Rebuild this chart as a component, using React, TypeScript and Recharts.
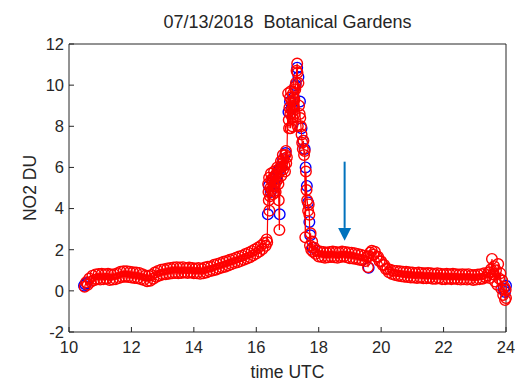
import {
  ReferenceDot,
  ReferenceLine,
  Scatter,
  ScatterChart,
  XAxis,
  YAxis,
} from "recharts";

const title = "07/13/2018\u00a0 Botanical Gardens";
const xTicks = [10, 12, 14, 16, 18, 20, 22, 24];
const yTicks = [-2, 0, 2, 4, 6, 8, 10, 12];

// [time UTC, NO2 DU]
const redMorning: [number, number][] = [
  [10.5, 0.2], [10.55, 0.42], [10.6, 0.3], [10.65, 0.6], [10.7, 0.44], [10.75, 0.74],
  [10.8, 0.52], [10.85, 0.8], [10.9, 0.56], [10.95, 0.82], [11.0, 0.55], [11.05, 0.83],
  [11.1, 0.57], [11.15, 0.81], [11.2, 0.59], [11.25, 0.83], [11.3, 0.53], [11.35, 0.79],
  [11.4, 0.55], [11.45, 0.81], [11.5, 0.57], [11.55, 0.85], [11.6, 0.63], [11.65, 0.93],
  [11.7, 0.67], [11.75, 0.95], [11.8, 0.69], [11.85, 0.95], [11.9, 0.67], [11.95, 0.93],
  [12.0, 0.65], [12.05, 0.91], [12.1, 0.63], [12.15, 0.89], [12.2, 0.61], [12.25, 0.87],
  [12.3, 0.57], [12.35, 0.81], [12.4, 0.53], [12.45, 0.75], [12.5, 0.47], [12.55, 0.73],
  [12.6, 0.49], [12.65, 0.77], [12.7, 0.59], [12.75, 0.89], [12.8, 0.69], [12.85, 0.97],
  [12.9, 0.75], [12.95, 1.03], [13.0, 0.79], [13.05, 1.05], [13.1, 0.81], [13.15, 1.09],
  [13.2, 0.83], [13.25, 1.11], [13.3, 0.85], [13.35, 1.13], [13.4, 0.87], [13.45, 1.15],
  [13.5, 0.85], [13.55, 1.13], [13.6, 0.87], [13.65, 1.15], [13.7, 0.89], [13.75, 1.11],
  [13.8, 0.87], [13.85, 1.13], [13.9, 0.89], [13.95, 1.11], [14.0, 0.85], [14.05, 1.09],
  [14.1, 0.85], [14.15, 1.11], [14.2, 0.83], [14.25, 1.07], [14.3, 0.85], [14.35, 1.13],
  [14.4, 0.89], [14.45, 1.17], [14.5, 0.95], [14.55, 1.19], [14.6, 0.99], [14.65, 1.27],
  [14.7, 1.03], [14.75, 1.31], [14.8, 1.09], [14.85, 1.35], [14.9, 1.13], [14.95, 1.41],
  [15.0, 1.17], [15.05, 1.45], [15.1, 1.23], [15.15, 1.51], [15.2, 1.29], [15.25, 1.55],
  [15.3, 1.35], [15.35, 1.61], [15.4, 1.39], [15.45, 1.67], [15.5, 1.45], [15.55, 1.71],
  [15.6, 1.51], [15.65, 1.79], [15.7, 1.57], [15.75, 1.85], [15.8, 1.63], [15.85, 1.93],
  [15.9, 1.73], [15.95, 2.01], [16.0, 1.81], [16.05, 2.09], [16.1, 1.91], [16.15, 2.19],
  [16.2, 2.03], [16.25, 2.33], [16.3, 2.19], [16.33, 2.5], [16.35, 2.36],
];

const redPeak: [number, number][] = [
  [16.38, 5.2], [16.39, 4.8], [16.4, 4.4], [16.41, 5.5], [16.42, 3.9], [16.44, 4.6],
  [16.45, 5.0], [16.47, 5.7], [16.48, 5.4], [16.5, 4.9], [16.52, 5.3], [16.53, 4.7],
  [16.55, 5.5], [16.57, 5.8], [16.58, 5.1], [16.6, 5.6], [16.62, 4.8], [16.63, 5.3],
  [16.65, 5.7], [16.67, 6.0], [16.68, 5.4], [16.7, 5.9], [16.71, 5.2], [16.72, 4.4],
  [16.74, 2.96], [16.76, 5.8], [16.78, 6.0], [16.79, 6.3], [16.8, 5.6], [16.83, 6.2],
  [16.85, 6.6], [16.86, 5.9], [16.88, 6.4], [16.9, 6.1], [16.92, 5.8], [16.93, 6.6],
  [16.95, 6.8], [16.96, 6.2], [16.98, 6.5], [17.02, 9.6], [17.04, 8.3], [17.05, 7.9],
  [17.06, 8.9], [17.08, 9.4], [17.09, 8.6], [17.1, 7.9], [17.11, 9.7], [17.12, 8.8],
  [17.14, 9.2], [17.15, 8.0], [17.16, 8.4], [17.18, 9.6], [17.19, 9.0], [17.2, 8.9],
  [17.22, 9.3], [17.23, 8.6], [17.24, 9.9], [17.25, 9.8], [17.27, 10.1], [17.29, 10.7],
  [17.31, 11.05], [17.32, 10.6], [17.33, 8.0], [17.35, 10.1], [17.37, 9.0], [17.39, 8.6],
  [17.41, 8.4], [17.43, 8.0], [17.45, 7.6], [17.47, 7.2], [17.49, 6.9], [17.51, 7.3],
  [17.53, 6.6], [17.55, 6.8], [17.57, 2.6], [17.59, 5.8], [17.61, 4.9], [17.63, 4.4],
  [17.66, 3.9], [17.68, 4.2], [17.7, 3.7], [17.72, 2.2], [17.74, 2.8], [17.76, 2.0],
  [17.79, 2.4], [17.82, 1.9], [17.86, 2.1], [17.9, 1.8], [17.95, 1.95],
];

const redEvening: [number, number][] = [
  [18.0, 1.67], [18.05, 1.91], [18.1, 1.65], [18.15, 1.89], [18.2, 1.61], [18.25, 1.87],
  [18.3, 1.63], [18.35, 1.89], [18.4, 1.65], [18.45, 1.91], [18.5, 1.63], [18.55, 1.89],
  [18.6, 1.61], [18.65, 1.87], [18.7, 1.65], [18.75, 1.91], [18.8, 1.67], [18.85, 1.89],
  [18.9, 1.63], [18.95, 1.87], [19.0, 1.59], [19.05, 1.85], [19.1, 1.57], [19.15, 1.83],
  [19.2, 1.55], [19.25, 1.79], [19.3, 1.51], [19.35, 1.75], [19.4, 1.49], [19.45, 1.71],
  [19.5, 1.45], [19.55, 1.67], [19.58, 1.15], [19.6, 1.68], [19.65, 1.86], [19.7, 1.95],
  [19.75, 1.76], [19.8, 1.9], [19.85, 1.66], [19.9, 1.66], [19.95, 1.44], [20.0, 1.44],
  [20.05, 1.26], [20.1, 1.26], [20.15, 1.06], [20.2, 1.08], [20.25, 0.9], [20.3, 1.02],
  [20.35, 0.82], [20.4, 0.98], [20.45, 0.77], [20.5, 0.97], [20.55, 0.73], [20.6, 0.95],
  [20.65, 0.71], [20.7, 0.93], [20.75, 0.69], [20.8, 0.93], [20.85, 0.67], [20.9, 0.91],
  [20.95, 0.65], [21.0, 0.89], [21.05, 0.65], [21.1, 0.87], [21.15, 0.63], [21.2, 0.89],
  [21.25, 0.65], [21.3, 0.87], [21.35, 0.61], [21.4, 0.85], [21.45, 0.61], [21.5, 0.87],
  [21.55, 0.63], [21.6, 0.85], [21.65, 0.59], [21.7, 0.83], [21.75, 0.59], [21.8, 0.85],
  [21.85, 0.61], [21.9, 0.83], [21.95, 0.57], [22.0, 0.81], [22.05, 0.57], [22.1, 0.83],
  [22.15, 0.59], [22.2, 0.81], [22.25, 0.57], [22.3, 0.83], [22.35, 0.59], [22.4, 0.81],
  [22.45, 0.57], [22.5, 0.79], [22.55, 0.55], [22.6, 0.81], [22.65, 0.57], [22.7, 0.79],
  [22.75, 0.55], [22.8, 0.81], [22.85, 0.57], [22.9, 0.77], [22.95, 0.53], [23.0, 0.77],
  [23.05, 0.55], [23.1, 0.79], [23.15, 0.57], [23.2, 0.81], [23.25, 0.59], [23.3, 0.85],
  [23.35, 0.65],
];

const redEnd: [number, number][] = [
  [23.4, 0.76], [23.45, 0.9], [23.48, 0.62], [23.52, 1.05], [23.55, 1.55], [23.58, 0.8],
  [23.62, 1.2], [23.65, 0.45], [23.68, 1.0], [23.72, 0.3], [23.75, 1.3], [23.78, 0.6],
  [23.82, 0.85], [23.85, 0.1], [23.88, 0.5], [23.91, -0.2], [23.94, 0.2], [23.97, -0.45],
  [23.99, 0.05], [24.0, -0.35],
];

const bluePoints: [number, number][] = [
  [10.48, 0.25], [10.52, 0.32], [10.56, 0.38], [16.37, 3.72], [16.4, 5.1], [16.46, 4.8],
  [16.52, 5.4], [16.58, 5.2], [16.64, 5.5], [16.7, 5.8], [16.75, 3.72], [16.8, 6.0],
  [16.86, 6.4], [16.94, 6.7], [17.03, 8.7], [17.08, 9.2], [17.14, 8.9], [17.2, 9.4],
  [17.26, 10.0], [17.31, 10.85], [17.35, 10.4], [17.4, 9.2], [17.45, 7.9], [17.5, 7.3],
  [17.55, 6.9], [17.58, 6.0], [17.62, 5.1], [17.66, 4.3], [17.7, 3.35], [17.73, 2.7],
  [17.8, 2.1], [19.6, 1.12], [23.92, 0.12], [23.97, -0.05], [24.0, 0.25],
];

// annotation arrow: x, top of shaft, base of head, tip
const arrowX = 18.83;
const arrowTop = 6.28;
const arrowHeadBase = 3.06;
const arrowTip = 2.44;

const toPoints = (rows: [number, number][]) => rows.map(([t, v]) => ({ t, v }));
const red = toPoints([...redMorning, ...redPeak, ...redEvening, ...redEnd]);
const blue = toPoints(bluePoints);

const ink = "#262626";
const font = "'Liberation Sans', Arial, Helvetica, sans-serif";

const ring = (color: string) => (props: any) =>
  <circle cx={props.cx} cy={props.cy} r={5.3} fill="none" stroke={color} strokeWidth={1.4} />;

const ArrowHead = (props: any) => {
  const { cx, cy } = props;
  return (
    <polygon
      points={`${cx - 6.5},${cy - 12.7} ${cx + 6.5},${cy - 12.7} ${cx},${cy}`}
      fill="#0072BD"
    />
  );
};

export default function App() {
  return (
    <div style={{ position: "absolute", left: 0, top: 0, fontFamily: font }}>
      <ScatterChart width={515} height={381} margin={{ top: 43, right: 8, bottom: 0, left: 0 }}>
        <XAxis
          xAxisId="b"
          dataKey="t"
          type="number"
          domain={[10, 24]}
          ticks={xTicks}
          interval={0}
          height={49}
          stroke={ink}
          tickSize={-5}
          tickMargin={14}
          tick={{ fill: ink, fontSize: 16.5 }}
          label={{ value: "time UTC", position: "insideBottom", offset: 3, fill: ink, fontSize: 17.5 }}
        />
        <XAxis
          xAxisId="top"
          orientation="top"
          dataKey="t"
          type="number"
          domain={[10, 24]}
          ticks={xTicks}
          interval={0}
          height={1}
          stroke={ink}
          tickSize={-5}
          tick={false}
          label={{ value: title, position: "top", offset: 15, fill: ink, fontSize: 18 }}
        />
        <YAxis
          yAxisId="l"
          dataKey="v"
          type="number"
          domain={[-2, 12]}
          ticks={yTicks}
          interval={0}
          width={69}
          stroke={ink}
          tickSize={-5}
          tickMargin={10}
          tick={{ fill: ink, fontSize: 16.5 }}
          label={{
            value: "NO2 DU",
            angle: -90,
            position: "insideLeft",
            offset: 30,
            fill: ink,
            fontSize: 17.5,
            style: { textAnchor: "middle" },
          }}
        />
        <YAxis
          yAxisId="r"
          orientation="right"
          dataKey="v"
          type="number"
          domain={[-2, 12]}
          ticks={yTicks}
          interval={0}
          width={1}
          stroke={ink}
          tickSize={-5}
          tick={false}
        />
        <Scatter
          xAxisId="b"
          yAxisId="l"
          data={blue}
          shape={ring("#0000FF")}
          isAnimationActive={false}
        />
        <Scatter
          xAxisId="b"
          yAxisId="l"
          data={red}
          line={{ stroke: "#FF0000", strokeWidth: 1.2 }}
          shape={ring("#FF0000")}
          isAnimationActive={false}
        />
        <ReferenceLine
          xAxisId="b"
          yAxisId="l"
          segment={[{ x: arrowX, y: arrowTop }, { x: arrowX, y: arrowHeadBase }]}
          stroke="#0072BD"
          strokeWidth={2}
        />
        <ReferenceDot
          xAxisId="b"
          yAxisId="l"
          x={arrowX}
          y={arrowTip}
          shape={ArrowHead}
        />
      </ScatterChart>
    </div>
  );
}
